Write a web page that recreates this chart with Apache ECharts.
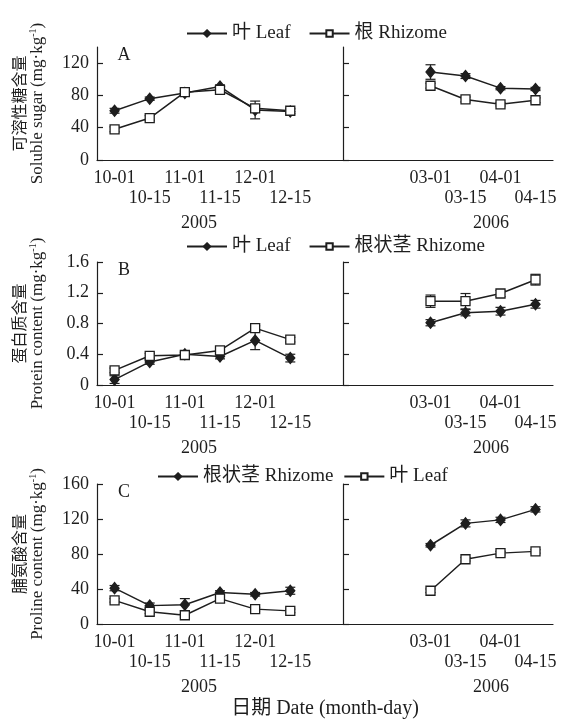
<!DOCTYPE html>
<html>
<head>
<meta charset="utf-8">
<script src="https://cdn.jsdelivr.net/npm/echarts@6/dist/echarts.min.js"></script>
<style>
  html, body { margin: 0; background: #fff; }
  #chart { width: 562px; height: 727px; }
</style>
</head>
<body>
<div id="chart"></div>
<script>
// categories (last/first slots are empty cells of the axis)
const dates2005 = ['10-01', '10-15', '11-01', '11-15', '12-01', '12-15', ''];
const dates2006 = ['', '', '03-01', '03-15', '04-01', '04-15'];
const offset2006 = 2;

// A: soluble sugar
const sugarLeaf05 = [61, 76, 83, 91, 62, 60];
const sugarLeaf05Err = [3, 2, 2, 2, 11, 3];
const sugarRhiz05 = [38, 52, 84, 87, 64, 61];
const sugarRhiz05Err = [3, 3, 2, 3, 3, 3];
const sugarLeaf06 = [109, 104, 89, 88];
const sugarLeaf06Err = [9, 3, 2, 2];
const sugarRhiz06 = [92, 75, 69, 74];
const sugarRhiz06Err = [3, 3, 2, 3];

// B: protein
const protLeaf05 = [0.07, 0.30, 0.40, 0.37, 0.58, 0.35];
const protLeaf05Err = [0.05, 0.03, 0.03, 0.03, 0.12, 0.05];
const protRhiz05 = [0.19, 0.38, 0.39, 0.45, 0.74, 0.59];
const protRhiz05Err = [0.03, 0.03, 0.03, 0.03, 0.03, 0.03];
const protLeaf06 = [0.81, 0.94, 0.96, 1.05];
const protLeaf06Err = [0.04, 0.04, 0.05, 0.05];
const protRhiz06 = [1.09, 1.09, 1.19, 1.37];
const protRhiz06Err = [0.08, 0.10, 0.04, 0.07];

// C: proline
const proRhiz05 = [41, 21, 22, 36, 34, 38];
const proRhiz05Err = [3, 3, 7, 2, 2, 4];
const proLeaf05 = [27, 14, 10, 29, 17, 15];
const proLeaf05Err = [2, 2, 2, 2, 2, 2];
const proRhiz06 = [90, 115, 119, 131];
const proRhiz06Err = [2, 4, 3, 3];
const proLeaf06 = [38, 74, 81, 83];
const proLeaf06Err = [2, 2, 2, 2];

const sugarTicks = [0, 40, 80, 120];

const ink = '#1e1e1e';
const serif = "'Liberation Serif', 'DejaVu Serif', serif";
const mixed = "'Liberation Serif', 'Noto Sans CJK SC', serif";

const panels = [
  {letter: 'A', top: 47, height: 113, max: 140, interval: 40, ticks: sugarTicks,
   cn: '可溶性糖含量', en: 'Soluble sugar', legendLeft: 181, legendTop: 19, gap: 18,
   lines: [
     {name: '叶 Leaf', filled: true, v05: sugarLeaf05, e05: sugarLeaf05Err, v06: sugarLeaf06, e06: sugarLeaf06Err},
     {name: '根 Rhizome', filled: false, v05: sugarRhiz05, e05: sugarRhiz05Err, v06: sugarRhiz06, e06: sugarRhiz06Err}
   ]},
  {letter: 'B', top: 262, height: 123, max: 1.6, interval: 0.4, ticks: null,
   cn: '蛋白质含量', en: 'Protein content', legendLeft: 181, legendTop: 232, gap: 18,
   lines: [
     {name: '叶 Leaf', filled: true, v05: protLeaf05, e05: protLeaf05Err, v06: protLeaf06, e06: protLeaf06Err},
     {name: '根状茎 Rhizome', filled: false, v05: protRhiz05, e05: protRhiz05Err, v06: protRhiz06, e06: protRhiz06Err}
   ]},
  {letter: 'C', top: 484, height: 140, max: 160, interval: 40, ticks: null,
   cn: '脯氨酸含量', en: 'Proline content', legendLeft: 152, legendTop: 462, gap: 10,
   lines: [
     {name: '根状茎 Rhizome', filled: true, v05: proRhiz05, e05: proRhiz05Err, v06: proRhiz06, e06: proRhiz06Err},
     {name: '叶 Leaf', filled: false, v05: proLeaf05, e05: proLeaf05Err, v06: proLeaf06, e06: proLeaf06Err}
   ]}
];

function errBar(params, api) {
  const lo = api.coord([api.value(0), api.value(1)]);
  const hi = api.coord([api.value(0), api.value(2)]);
  const w = 5;
  const st = {stroke: ink, lineWidth: 1.2};
  return {
    type: 'group',
    children: [
      {type: 'line', shape: {x1: lo[0], y1: lo[1], x2: hi[0], y2: hi[1]}, style: st},
      {type: 'line', shape: {x1: lo[0] - w, y1: lo[1], x2: lo[0] + w, y2: lo[1]}, style: st},
      {type: 'line', shape: {x1: hi[0] - w, y1: hi[1], x2: hi[0] + w, y2: hi[1]}, style: st}
    ]
  };
}

const grid = [], xAxis = [], yAxis = [], series = [], legend = [], graphic = [];

panels.forEach(function (p, pi) {
  [0, 1].forEach(function (side) {
    const gi = pi * 2 + side;
    grid.push({left: side ? 343 : 97, width: side ? 210 : 246, top: p.top, height: p.height,
      outerBoundsMode: 'none'});
    xAxis.push({
      type: 'category', gridIndex: gi, data: side ? dates2006 : dates2005,
      boundaryGap: true,
      axisLine: {lineStyle: {color: ink, width: 1.2}},
      axisTick: {inside: true, length: 6, lineStyle: {color: ink, width: 1.2}},
      axisLabel: {
        interval: 0, margin: 8, color: ink, fontFamily: serif, fontSize: 18, lineHeight: 20,
        formatter: function (v, i) { return i % 2 ? '\n' + v : v; }
      }
    });
    const y = {
      type: 'value', gridIndex: gi, min: 0, max: p.max, interval: p.interval,
      splitLine: {show: false},
      axisLine: {show: true, lineStyle: {color: ink, width: 1.2}},
      axisTick: {show: true, inside: true, length: 6, lineStyle: {color: ink, width: 1.2}},
      axisLabel: {show: !side, margin: 8, color: ink, fontFamily: serif, fontSize: 18}
    };
    if (p.ticks) {
      y.axisTick.customValues = p.ticks;
      y.axisLabel.customValues = p.ticks;
    }
    if (!side) {
      y.name = '{cn|' + p.cn + '}\n{en|' + p.en + ' (mg·kg}{sup|-1}{en|)}';
      y.nameLocation = 'middle';
      y.nameGap = 50;
      y.nameTextStyle = {
        rich: {
          cn: {fontFamily: 'Noto Sans CJK SC', fontSize: 16, lineHeight: 19, color: ink},
          en: {fontFamily: serif, fontSize: 17, lineHeight: 19, color: ink},
          sup: {fontFamily: serif, fontSize: 10, lineHeight: 19, verticalAlign: 'top', color: ink}
        }
      };
    }
    yAxis.push(y);

    p.lines.forEach(function (l) {
      const vals = side ? l.v06 : l.v05;
      const errs = side ? l.e06 : l.e05;
      const off = side ? offset2006 : 0;
      series.push({
        type: 'custom', name: 'err', xAxisIndex: gi, yAxisIndex: gi, z: 2,
        renderItem: errBar,
        encode: {x: 0, y: [1, 2]},
        data: vals.map(function (v, i) { return [i + off, v - errs[i], v + errs[i]]; })
      });
      series.push({
        type: 'line', name: p.letter + '|' + l.name, xAxisIndex: gi, yAxisIndex: gi, z: 3,
        data: vals.map(function (v, i) { return [i + off, v]; }),
        symbol: l.filled ? 'diamond' : 'rect',
        symbolSize: l.filled ? [9, 11] : 9,
        lineStyle: {color: ink, width: 1.5},
        itemStyle: {color: l.filled ? ink : '#fff', borderColor: ink, borderWidth: 1.3}
      });
    });
  });

  legend.push({
    left: p.legendLeft, top: p.legendTop, selectedMode: false,
    itemWidth: 40, itemHeight: 8, itemGap: p.gap,
    data: p.lines.map(function (l) { return p.letter + '|' + l.name; }),
    formatter: function (n) { return n.split('|')[1]; },
    textStyle: {fontFamily: mixed, fontSize: 19, color: ink}
  });

  graphic.push({type: 'text', x: 124, y: p.top + 8, style: {
    text: p.letter, font: '18px ' + serif, fill: ink, textAlign: 'center', textVerticalAlign: 'middle'}});
  graphic.push({type: 'text', x: 199, y: p.top + p.height + 63, style: {
    text: '2005', font: '18px ' + serif, fill: ink, textAlign: 'center', textVerticalAlign: 'middle'}});
  graphic.push({type: 'text', x: 491, y: p.top + p.height + 63, style: {
    text: '2006', font: '18px ' + serif, fill: ink, textAlign: 'center', textVerticalAlign: 'middle'}});
});

graphic.push({type: 'text', x: 325, y: 709, style: {
  text: '日期 Date (month-day)', font: '20px ' + mixed, fill: ink, textAlign: 'center', textVerticalAlign: 'middle'}});

const chart = echarts.init(document.getElementById('chart'));
chart.setOption({
  backgroundColor: '#fff',
  animation: false,
  grid: grid,
  xAxis: xAxis,
  yAxis: yAxis,
  legend: legend,
  graphic: graphic,
  series: series
});
</script>
</body>
</html>
